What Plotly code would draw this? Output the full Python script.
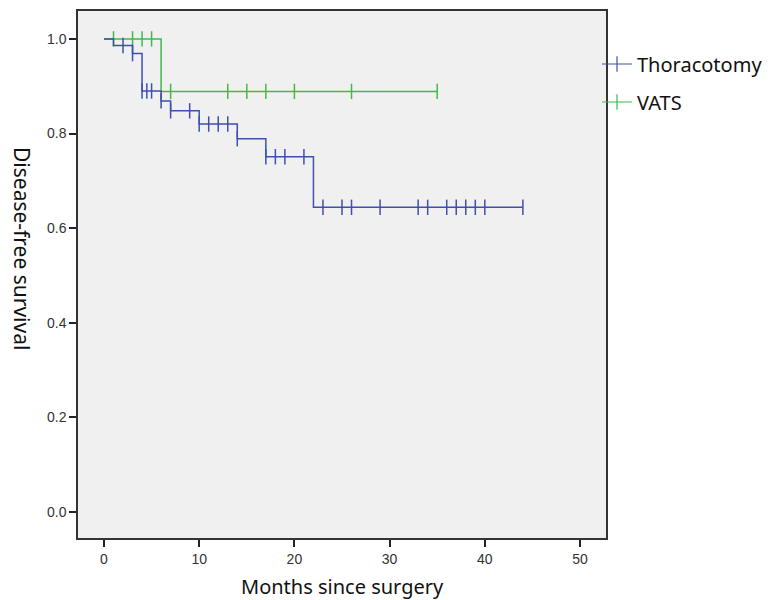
import numpy as np
import plotly.graph_objects as go

# Kaplan-Meier step data (time in months, survival after the step)
thor_times = [0, 1, 3, 4, 6, 7, 10, 14, 17, 22, 44]
thor_surv = [1.0, 0.986, 0.969, 0.890, 0.869, 0.848, 0.820, 0.789, 0.751, 0.644, 0.644]
thor_censored = [2, 3, 4, 4.5, 5, 6, 7, 9, 10, 11, 12, 13, 14, 17, 18, 19, 21,
                 23, 25, 26, 29, 33, 34, 36, 37, 38, 39, 40, 44]

vats_times = [0, 6, 35]
vats_surv = [1.0, 0.889, 0.889]
vats_censored = [1, 3, 4, 5, 7, 13, 15, 17, 20, 26, 35]

group_names = ["Thoracotomy", "VATS"]
x_ticks = [0, 10, 20, 30, 40, 50]
y_ticks = [0.0, 0.2, 0.4, 0.6, 0.8, 1.0]
x_title = "Months since surgery"
y_title = "Disease-free survival"

BLUE = "#3d50ad"
GREEN = "#3fba4a"

# plot area in pixels
L, R, T, B = 78, 606, 11, 538
PW, PH = R - L, B - T


def surv_at(times, surv, t):
    idx = np.searchsorted(np.array(times), np.array(t), side="right") - 1
    return np.array(surv)[idx]


fig = go.Figure()
for times, surv, cens, color, name in [
    (vats_times, vats_surv, vats_censored, GREEN, group_names[1]),
    (thor_times, thor_surv, thor_censored, BLUE, group_names[0]),
]:
    fig.add_trace(go.Scatter(x=times, y=surv, mode="lines", line=dict(color=color, width=1.5, shape="hv"),
                             showlegend=False, hoverinfo="skip"))
    fig.add_trace(go.Scatter(x=cens, y=surv_at(times, surv, cens), mode="markers",
                             marker=dict(symbol="line-ns", size=11, line=dict(color=color, width=1.5)),
                             showlegend=False))

# legend entries
fig.add_trace(go.Scatter(x=[None], y=[None], mode="lines+markers", name=group_names[0],
                         line=dict(color=BLUE, width=1.2),
                         marker=dict(symbol="line-ns", size=11, line=dict(color=BLUE, width=1.2)),
                         legend="legend"))
fig.add_trace(go.Scatter(x=[None], y=[None], mode="lines+markers", name=group_names[1],
                         line=dict(color=GREEN, width=1.2),
                         marker=dict(symbol="line-ns", size=11, line=dict(color=GREEN, width=1.2)),
                         legend="legend2"))

title_font = dict(family="Noto Sans, Open Sans, sans-serif", size=20, color="#111")
legend_font = dict(family="Noto Sans, Open Sans, sans-serif", size=20, color="#111")
tick_font = dict(family="Liberation Sans, Arial", size=14, color="#333")
lx = 1.0 - 9 / PW

fig.update_layout(
    width=771, height=600,
    margin=dict(l=L, r=771 - R, t=T, b=600 - B, autoexpand=False),
    paper_bgcolor="white",
    plot_bgcolor="#f0f0f0",
    legend=dict(x=lx, y=(B - 64) / PH, xanchor="left", yanchor="middle",
                font=legend_font, bgcolor="rgba(0,0,0,0)", itemwidth=30),
    legend2=dict(x=lx, y=(B - 102) / PH, xanchor="left", yanchor="middle",
                 font=legend_font, bgcolor="rgba(0,0,0,0)", itemwidth=30),
    xaxis=dict(range=[-2.73, 52.73], tickvals=x_ticks, ticks="outside", ticklen=7, tickwidth=1.5,
               tickcolor="#222", showgrid=False, zeroline=False, showline=True, linecolor="#333",
               linewidth=1.5, mirror=True, tickfont=tick_font, automargin=False),
    yaxis=dict(range=[-0.055, 1.059], tickvals=y_ticks, tickformat=".1f", ticks="outside", ticklen=7,
               tickwidth=1.5, tickcolor="#222", showgrid=False, zeroline=False, showline=True,
               linecolor="#333", linewidth=1.5, mirror=True, tickfont=tick_font, automargin=False),
    annotations=[
        dict(text=x_title, xref="paper", yref="paper", x=(342 - L) / PW, y=(B - 586) / PH,
             xanchor="center", yanchor="middle", showarrow=False, font=title_font),
        dict(text=y_title, xref="paper", yref="paper", x=(22 - L) / PW, y=(B - 248) / PH,
             xanchor="center", yanchor="middle", showarrow=False, textangle=90,
             font=dict(family="Noto Sans, Open Sans, sans-serif", size=21, color="#111")),
    ],
)

fig.write_html("out.html", config={"displayModeBar": False},
               post_script="document.body.style.margin='0';")
